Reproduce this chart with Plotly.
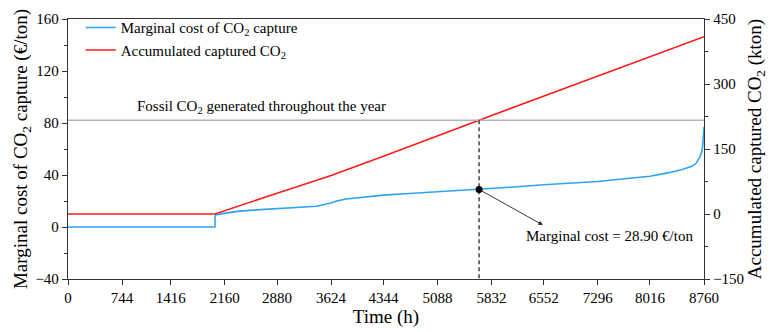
import plotly.graph_objects as go

# ---- data ----
hours_cost = [0, 2024, 2026, 2040, 2150, 2333, 2600, 3000, 3420, 3620, 3700, 3830, 4000,
              4344, 4700, 5088, 5662, 6100, 6552, 7000, 7296, 7736, 8016, 8277, 8450,
              8593, 8650, 8705, 8730, 8745, 8760]
marginal_cost = [0, 0, 8.5, 9.5, 10.5, 12.0, 13.2, 14.5, 16.0, 18.5, 20.0, 21.6, 22.6,
                 24.5, 25.8, 27.0, 28.9, 30.6, 32.5, 34.0, 35.0, 37.5, 39.0, 41.8, 44.0,
                 46.7, 49.0, 54.0, 58.0, 64.0, 77.0]
hours_acc = [0, 2024, 2880, 3624, 4344, 5662, 8760]
acc_co2 = [0, 0, 48, 89, 133, 216.6, 409]
fossil_co2_left = 82.2          # level on left axis of the fossil CO2 line
cross_hour = 5662
cross_cost = 28.9
x_ticks = [0, 744, 1416, 2160, 2880, 3624, 4344, 5088, 5832, 6552, 7296, 8016, 8760]

FONT = "Times New Roman, Liberation Serif, DejaVu Serif, serif"
AX = "#333333"

fig = go.Figure()
fig.add_trace(go.Scatter(x=hours_cost, y=marginal_cost, mode="lines",
                         line=dict(color="#2ea3f2", width=1.6),
                         name="Marginal cost of CO<sub>2</sub> capture"))
fig.add_trace(go.Scatter(x=hours_acc, y=acc_co2, mode="lines", yaxis="y2",
                         line=dict(color="#ff1a1a", width=1.6),
                         name="Accumulated captured CO<sub>2</sub>"))
fig.add_trace(go.Scatter(x=[cross_hour], y=[cross_cost], mode="markers",
                         marker=dict(color="black", size=7), showlegend=False))

# fossil CO2 horizontal line
fig.add_shape(type="line", xref="x", yref="y", x0=0, x1=8760,
              y0=fossil_co2_left, y1=fossil_co2_left,
              line=dict(color="#b4b4b4", width=1.5))
# dashed vertical line
fig.add_shape(type="line", xref="x", yref="y", x0=cross_hour, x1=cross_hour,
              y0=fossil_co2_left, y1=-40,
              line=dict(color="black", width=1.1, dash="4px,3px"))

fig.add_annotation(x=925, y=92.3, xref="x", yref="y", xanchor="left", yanchor="middle",
                   text="Fossil CO<sub>2</sub> generated throughout the year",
                   showarrow=False, font=dict(family=FONT, size=15, color="black"))
# arrow
fig.add_annotation(x=6541, y=1.5, xref="x", yref="y", ax=cross_hour, ay=cross_cost,
                   axref="x", ayref="y", text="", showarrow=True,
                   arrowhead=2, arrowsize=1, arrowwidth=0.9, arrowcolor="#222")
fig.add_annotation(x=7452, y=-7, xref="x", yref="y", xanchor="center", yanchor="middle",
                   text="Marginal cost = 28.90 €/ton", showarrow=False,
                   font=dict(family=FONT, size=15, color="black"))

fig.update_layout(
    width=772, height=332,
    margin=dict(l=68, r=57, t=11, b=48),
    plot_bgcolor="white", paper_bgcolor="white",
    font=dict(family=FONT, size=15, color="black"),
    showlegend=True,
    legend=dict(x=0.02, y=1.03, xanchor="left", yanchor="top",
                bgcolor="rgba(0,0,0,0)", font=dict(family=FONT, size=15),
                tracegroupgap=0, itemwidth=30),
    xaxis=dict(range=[0, 8760], tickvals=x_ticks, ticktext=[str(v) for v in x_ticks],
               showgrid=False, zeroline=False, showline=True, linecolor=AX, linewidth=1.3,
               mirror=True, ticks="outside", ticklen=5, tickcolor=AX,
               title=dict(text="Time (h)", font=dict(family=FONT, size=19), standoff=2),
               tickfont=dict(family=FONT, size=15)),
    yaxis=dict(range=[-40, 160], dtick=40, tick0=0, showgrid=False, zeroline=False,
               showline=True, linecolor=AX, linewidth=1.3, ticks="outside", ticklen=5,
               tickcolor=AX, minor=dict(ticks="outside", ticklen=3, dtick=20, tickcolor=AX),
               title=dict(text="Marginal cost of CO<sub>2</sub> capture (€/ton)",
                          font=dict(family=FONT, size=19), standoff=2),
               tickfont=dict(family=FONT, size=15)),
    yaxis2=dict(range=[-150, 450], dtick=150, tick0=0, overlaying="y", side="right",
                showgrid=False, zeroline=False, showline=True, linecolor=AX, linewidth=1.3,
                ticks="outside", ticklen=5, tickcolor=AX,
                minor=dict(ticks="outside", ticklen=3, dtick=75, tickcolor=AX),
                title=dict(text="Accumulated captured CO<sub>2</sub> (kton)",
                           font=dict(family=FONT, size=19), standoff=4),
                tickfont=dict(family=FONT, size=15)),
)

fig.write_html("out.html")
